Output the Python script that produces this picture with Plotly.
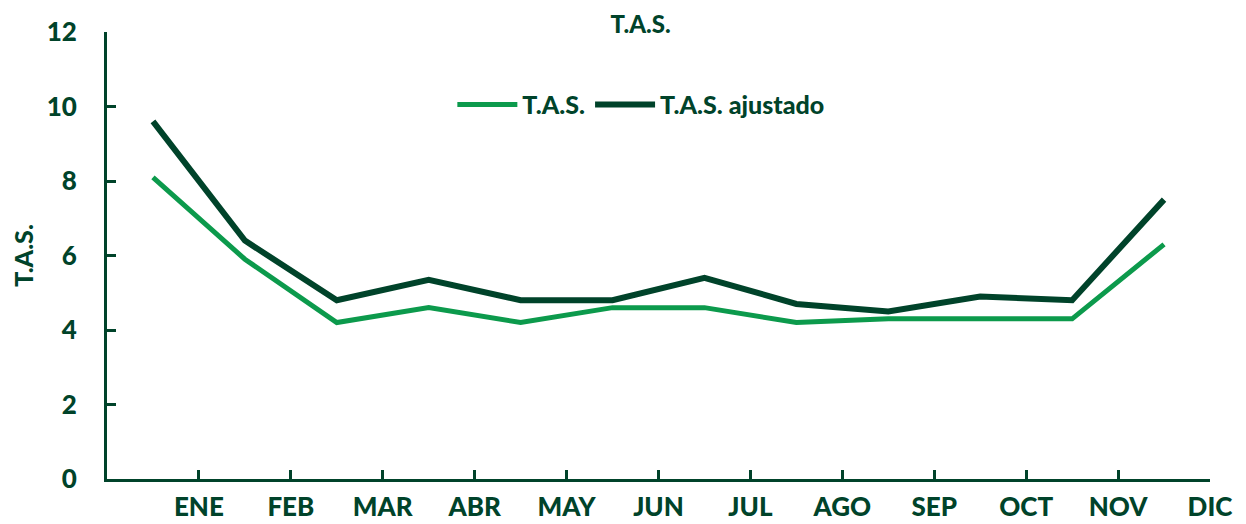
import plotly.graph_objects as go

months = ["ENE", "FEB", "MAR", "ABR", "MAY", "JUN", "JUL", "AGO", "SEP", "OCT", "NOV", "DIC"]
tas = [8.1, 5.9, 4.2, 4.6, 4.2, 4.6, 4.6, 4.2, 4.3, 4.3, 4.3, 6.3]
tas_ajustado = [9.6, 6.4, 4.8, 5.35, 4.8, 4.8, 5.4, 4.7, 4.5, 4.9, 4.8, 7.5]
y_ticks = [0, 2, 4, 6, 8, 10, 12]

DARK = "#00432a"
LIGHT = "#0c9a4c"
FONT = "Lato"
FS = 26

# points sit between tick marks, labels sit on the tick to their right
x_pts = [i + 0.5 for i in range(len(months))]
x_ticks = [i + 1 for i in range(len(months))]

fig = go.Figure()
fig.add_trace(go.Scatter(x=x_pts, y=tas, mode="lines", name="T.A.S.",
                         line=dict(color=LIGHT, width=5)))
fig.add_trace(go.Scatter(x=x_pts, y=tas_ajustado, mode="lines", name="T.A.S. ajustado",
                         line=dict(color=DARK, width=6)))

fig.update_layout(
    width=1238, height=516,
    margin=dict(l=99, r=36, t=24, b=45),
    paper_bgcolor="white", plot_bgcolor="white",
    font=dict(family=FONT, color=DARK, size=FS, weight=900),
    title=dict(text="T.A.S.", x=0.511, xanchor="center", y=0.968, yanchor="middle",
               font=dict(size=24, family=FONT, color=DARK, weight=900), automargin=False),
    legend=dict(orientation="h", x=0.484, xanchor="center", y=0.837, yanchor="middle",
                font=dict(size=25, family=FONT, color=DARK, weight=900),
                bgcolor="rgba(0,0,0,0)", itemwidth=60, tracegroupgap=0),
    showlegend=True,
)
fig.update_xaxes(range=[0, 12], tickvals=x_ticks, ticktext=months, automargin=False,
                 showgrid=False, zeroline=False, showline=True, linecolor=DARK, linewidth=3,
                 ticks="inside", ticklen=9, tickwidth=3, tickcolor=DARK,
                 ticklabelstandoff=3,
                 tickfont=dict(size=FS, family=FONT, color=DARK, weight=900))
fig.update_yaxes(range=[0, 12], tickvals=y_ticks, automargin=False,
                 showgrid=False, zeroline=False, showline=True, linecolor=DARK, linewidth=3,
                 ticks="inside", ticklen=9, tickwidth=3, tickcolor=DARK,
                 ticklabelstandoff=22,
                 tickfont=dict(size=FS, family=FONT, color=DARK, weight=900),
                 title=dict(text="T.A.S.", standoff=18,
                            font=dict(size=25, family=FONT, color=DARK, weight=900)))

fig.write_html("out.html")
